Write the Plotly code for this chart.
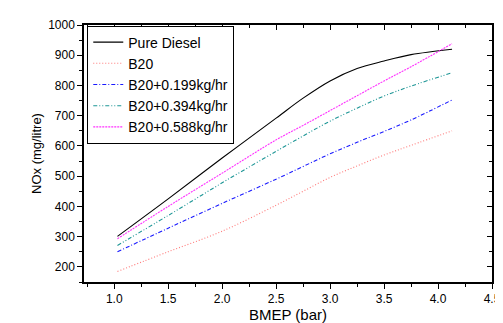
import plotly.graph_objects as go

bmep = [1.03, 1.5, 2.0, 2.5, 2.75, 3.0, 3.25, 3.5, 3.75, 4.13]
pure_diesel = [301, 425, 560, 692, 758, 815, 856, 881, 902, 920]
b20 = [185, 250, 318, 404, 450, 496, 534, 570, 602, 650]
b20_0199 = [250, 328, 410, 490, 532, 574, 612, 648, 686, 752]
b20_0394 = [271, 370, 478, 582, 633, 682, 725, 765, 798, 842]
b20_0588 = [293, 400, 510, 620, 668, 717, 766, 815, 862, 938]

series = [
    ("Pure Diesel", pure_diesel, "#000000", "solid"),
    ("B20", b20, "#ff7878", "1px,2px"),
    ("B20+0.199kg/hr", b20_0199, "#1a1aff", "4px,2px,1px,2px"),
    ("B20+0.394kg/hr", b20_0394, "#1e9696", "4px,2px,1px,2px,1px,2px"),
    ("B20+0.588kg/hr", b20_0588, "#ff30ff", "2px,1px"),
]

fig = go.Figure()
for name, ys, color, dash in series:
    fig.add_trace(go.Scatter(x=bmep, y=ys, name=name, mode="lines",
                             line=dict(color=color, dash=dash, width=1.1, shape="spline", smoothing=1.0)))

font = dict(family="Arial, Liberation Sans, sans-serif", color="#000")
fig.update_layout(
    width=503, height=323,
    margin=dict(l=76, r=10, t=13, b=40),
    paper_bgcolor="white", plot_bgcolor="white",
    font=dict(size=12, **font),
    showlegend=True,
    legend=dict(x=0.008, y=0.998, xanchor="left", yanchor="top",
                bordercolor="#000", borderwidth=1, bgcolor="white",
                font=dict(size=14, **font), tracegroupgap=0,
                itemwidth=30),
    xaxis=dict(range=[0.72, 4.5], tick0=1.0, dtick=0.5, tickformat=".1f",
               ticks="outside", ticklen=5, tickwidth=1, tickcolor="#000",
               tickfont=dict(size=12, **font),
               minor=dict(ticks="outside", ticklen=3, dtick=0.25, tick0=1.0, tickcolor="#000"),
               showline=True, linecolor="#000", linewidth=1.5,
               showgrid=False, zeroline=False,
               title=dict(text="BMEP (bar)", font=dict(size=15, **font), standoff=4)),
    yaxis=dict(range=[150, 1000], tick0=200, dtick=100,
               ticks="outside", ticklen=5, tickwidth=1, tickcolor="#000",
               tickfont=dict(size=12, **font),
               minor=dict(ticks="outside", ticklen=3, dtick=50, tick0=200, tickcolor="#000"),
               showline=True, linecolor="#000", linewidth=1.5,
               showgrid=False, zeroline=False,
               title=dict(text="NOx (mg/litre)", font=dict(size=13, **font), standoff=4)),
    xaxis2=dict(range=[0.72, 4.5], overlaying="x", side="top", anchor="y",
                tick0=1.0, dtick=0.5, ticks="inside", ticklen=5, tickcolor="#000",
                minor=dict(ticks="inside", ticklen=3, dtick=0.25, tick0=1.0, tickcolor="#000"),
                showticklabels=False, showline=True, linecolor="#000", linewidth=1.5,
                showgrid=False, zeroline=False),
    yaxis2=dict(range=[150, 1000], overlaying="y", side="right", anchor="x",
                tick0=200, dtick=100, ticks="inside", ticklen=5, tickcolor="#000",
                minor=dict(ticks="inside", ticklen=3, dtick=50, tick0=200, tickcolor="#000"),
                showticklabels=False, showline=True, linecolor="#000", linewidth=1.5,
                showgrid=False, zeroline=False),
)
fig.add_trace(go.Scatter(x=[None], y=[None], xaxis="x2", yaxis="y2", showlegend=False, hoverinfo="skip"))

fig.write_html("out.html")
